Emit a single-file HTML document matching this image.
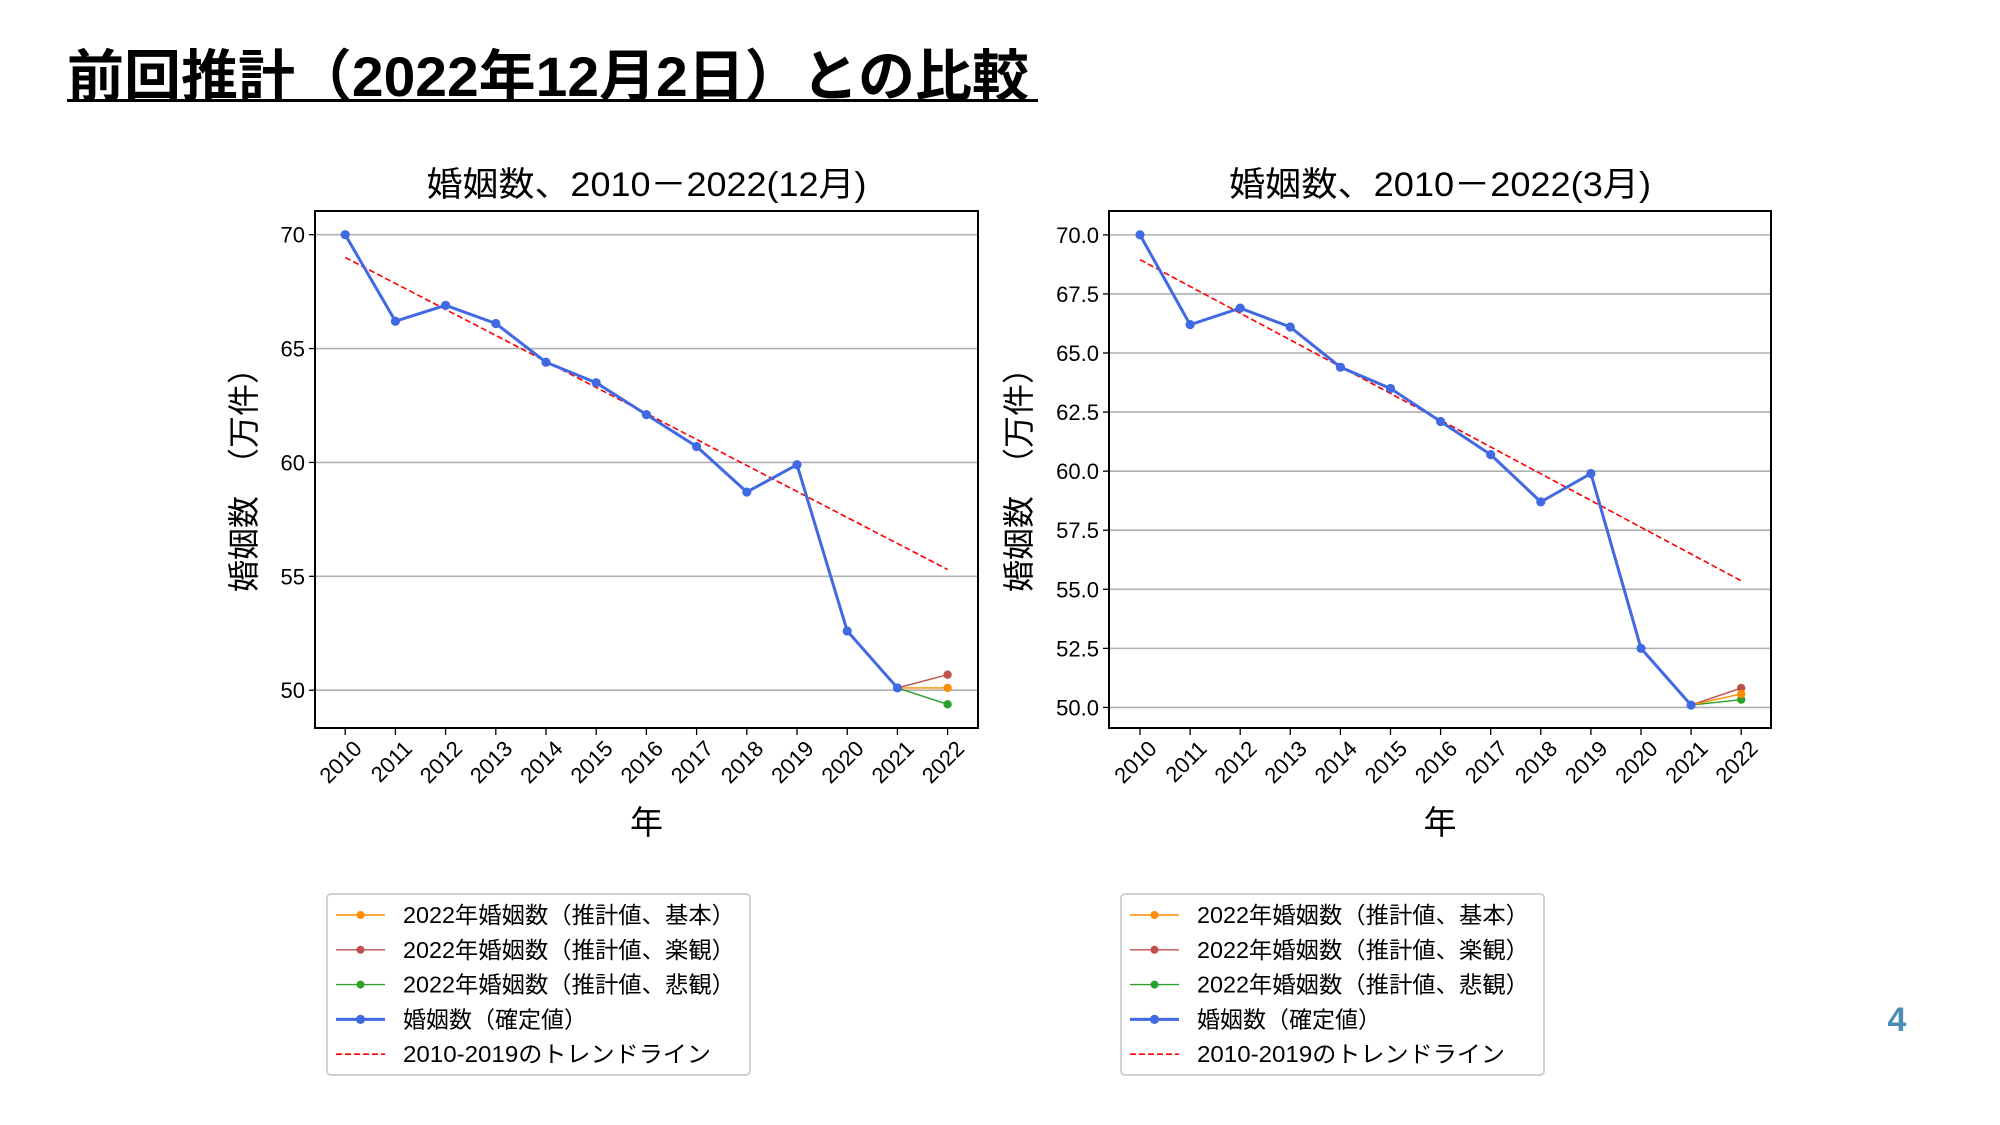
<!DOCTYPE html>
<html><head><meta charset="utf-8">
<style>
html,body{margin:0;padding:0;background:#fff;}
#wrap{position:relative;width:2000px;height:1125px;overflow:hidden;font-family:"Liberation Sans","Noto Sans CJK JP",sans-serif;}
svg text{font-family:"Liberation Sans","Noto Sans CJK JP",sans-serif;}
</style></head>
<body>
<div id="wrap">
<svg id="svg" width="2000" height="1125" viewBox="0 0 2000 1125">
  <text x="67" y="96" font-size="56" font-weight="bold" fill="#000" textLength="962" lengthAdjust="spacingAndGlyphs">前回推計（2022年12月2日）との比較</text>
  <rect x="67" y="99" width="971" height="3" fill="#000"></rect>
  <text x="1897" y="1031" font-size="34" font-weight="bold" fill="#4a8db8" text-anchor="middle">4</text>
</svg>
</div>
<script>
const years = [2010,2011,2012,2013,2014,2015,2016,2017,2018,2019,2020,2021,2022];
const actualLeft = [70.0,66.2,66.9,66.1,64.4,63.5,62.1,60.7,58.7,59.9,52.6,50.1];
const actualRight = [70.0,66.2,66.9,66.1,64.4,63.5,62.1,60.7,58.7,59.9,52.5,50.1];
const trendLeft = [69.0,55.3];
const trendRight = [68.95,55.36];
const estBaseLeft = [50.1,50.1];
const estOptLeft = [50.1,50.68];
const estPesLeft = [50.1,49.38];
const estBaseRight = [50.1,50.57];
const estOptRight = [50.1,50.82];
const estPesRight = [50.1,50.33];
const yTicksLeft = [50,55,60,65,70];
const yTickLabelsLeft = ["50","55","60","65","70"];
const yTicksRight = [50,52.5,55,57.5,60,62.5,65,67.5,70];
const yTickLabelsRight = ["50.0","52.5","55.0","57.5","60.0","62.5","65.0","67.5","70.0"];
const legendLabels = ["2022年婚姻数（推計値、基本）","2022年婚姻数（推計値、楽観）","2022年婚姻数（推計値、悲観）","婚姻数（確定値）","2010-2019のトレンドライン"];
const legendWidths = [332,332,332,184,308];

const NS = "http://www.w3.org/2000/svg";
const svg = document.getElementById('svg');
function mk(tag, attrs, parent){
  const e = document.createElementNS(NS, tag);
  for (const k in attrs) e.setAttribute(k, attrs[k]);
  (parent||svg).appendChild(e);
  return e;
}

function drawChart(cfg){
  const g = mk('g', {});
  
  
  const L=cfg.left,R=cfg.right,T=211,B=728;
  const x = yr => cfg.x0 + (yr-2010)*cfg.step;
  const y = v => T + (cfg.ymax - v)/(cfg.ymax-cfg.ymin)*(B-T);
  const t = mk('text',{x:(L+R)/2,y:196,'font-size':34,'text-anchor':'middle',fill:'#000',textLength:cfg.titleLen,lengthAdjust:'spacingAndGlyphs'},g);
  t.textContent = cfg.title;
  
  
  cfg.yticks.forEach((v,i)=>{
    const gl = mk('line',{x1:L,x2:R,y1:y(v),y2:y(v),stroke:'#b0b0b0','stroke-width':1.6},g);
    
    
    mk('line',{x1:L-6,x2:L,y1:y(v),y2:y(v),stroke:'#000','stroke-width':1.3},g);
    const tl = mk('text',{x:L-10,y:y(v)+8,'font-size':22,'text-anchor':'end',fill:'#000'},g);
    tl.textContent = cfg.ylabels[i];
    
    
  });
  years.forEach(yr=>{
    mk('line',{x1:x(yr),x2:x(yr),y1:B,y2:B+7,stroke:'#000','stroke-width':1.3},g);
    const tl = mk('text',{x:0,y:0,'font-size':22,'text-anchor':'end',fill:'#000',transform:`translate(${x(yr)+18},${B+22}) rotate(-45)`},g);
    tl.textContent = String(yr);
    
    
  });
  const xl = mk('text',{x:(L+R)/2,y:834,'font-size':33,'text-anchor':'middle',fill:'#000'},g);
  xl.textContent='年';
  
  
  const yl = mk('text',{x:0,y:0,'font-size':32,'text-anchor':'middle',fill:'#000',textLength:240,lengthAdjust:'spacing',transform:`translate(${cfg.ylabX},472) rotate(-90)`},g);
  yl.textContent='婚姻数　（万件）';
  
  
  const tr = mk('line',{x1:x(2010),y1:y(cfg.trend[0]),x2:x(2022),y2:y(cfg.trend[1]),stroke:'#ff0000','stroke-width':1.6,'stroke-dasharray':'6,3'},g);
  
  
  const ests = [[cfg.estOpt,'#c0504d','estimate-optimistic'],[cfg.estPes,'#2ca02c','estimate-pessimistic'],[cfg.estBase,'#ff8c00','estimate-base']];
  ests.forEach(([vals,col,nm])=>{
    const pl = mk('polyline',{points:vals.map((v,i)=>x(2021+i)+','+y(v)).join(' '),fill:'none',stroke:col,'stroke-width':1.4},g);
    
    
    const c = mk('circle',{cx:x(2022),cy:y(vals[1]),r:4.2,fill:col},g);
    
    
  });
  const pl = mk('polyline',{points:cfg.actual.map((v,i)=>x(2010+i)+','+y(v)).join(' '),fill:'none',stroke:'#4169e1','stroke-width':3,'stroke-linejoin':'round'},g);
  
  
  cfg.actual.forEach((v,i)=>{
    const c = mk('circle',{cx:x(2010+i),cy:y(v),r:4.6,fill:'#4169e1'},g);
    
    
  });
  const fr = mk('rect',{x:L,y:T,width:R-L,height:B-T,fill:'none',stroke:'#000','stroke-width':2},g);
  
  
  const lx = L+12, ly=894;
  const lg = mk('g',{},g);
  
  
  mk('rect',{x:lx,y:ly,width:423,height:181,rx:4,fill:'#fff',stroke:'#d0d0d0','stroke-width':2},lg);
  const styles=[['#ff8c00',1.4,null,4],['#c0504d',1.4,null,4],['#2ca02c',1.4,null,4],['#4169e1',3,null,4.6],['#ff0000',1.6,'6,3',0]];
  legendLabels.forEach((lab,i)=>{
    const ey = 915 + i*34.8;
    const [col,w,da,r]=styles[i];
    const e = mk('g',{},lg);
    
    
    const ln = mk('line',{x1:lx+9,x2:lx+58,y1:ey,y2:ey,stroke:col,'stroke-width':w},e);
    if(da) ln.setAttribute('stroke-dasharray',da);
    if(r) mk('circle',{cx:lx+33.5,cy:ey,r:r,fill:col},e);
    const tx = mk('text',{x:lx+76,y:ey+8,'font-size':23,fill:'#000',textLength:legendWidths[i],lengthAdjust:'spacingAndGlyphs'},e);
    tx.textContent = lab;
  });
}

drawChart({name:'chart-december',title:'婚姻数、2010－2022(12月)',titleLen:440,left:315,right:978,x0:345.2,step:50.2,ymin:48.34,ymax:71.04,
  yticks:yTicksLeft,ylabels:yTickLabelsLeft,actual:actualLeft,trend:trendLeft,estBase:estBaseLeft,estOpt:estOptLeft,estPes:estPesLeft,ylabX:255});
drawChart({name:'chart-march',title:'婚姻数、2010－2022(3月)',titleLen:422,left:1109,right:1771,x0:1140,step:50.1,ymin:49.13,ymax:71.01,
  yticks:yTicksRight,ylabels:yTickLabelsRight,actual:actualRight,trend:trendRight,estBase:estBaseRight,estOpt:estOptRight,estPes:estPesRight,ylabX:1030});
</script>
</body></html>
